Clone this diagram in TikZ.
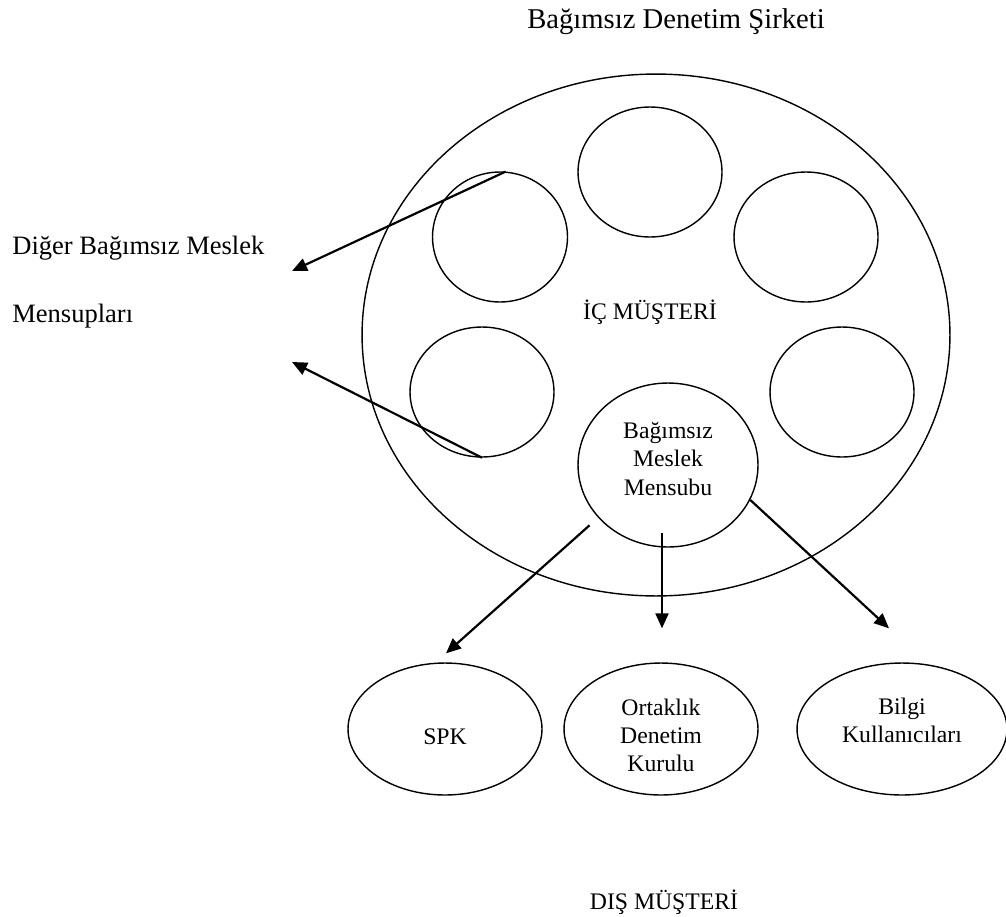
\documentclass[tikz,border=0pt]{standalone}
\usepackage{fontspec}
\setmainfont{Liberation Serif}
\usetikzlibrary{shapes.geometric,arrows.meta}

\tikzset{
  oval/.style={draw, ellipse, line width=0.8pt, inner sep=0pt},
  yazi/.style={inner sep=0pt, align=center, font=\fontsize{13.5}{16}\selectfont},
  okay/.style={-{Triangle[length=0.3cm,width=0.26cm]}, line width=1.25pt},
}

\begin{document}
\begin{tikzpicture}[x=0.02cm, y=-0.02cm]
\useasboundingbox (0,0) rectangle (1006,916);

\node[inner sep=0pt, font=\fontsize{16.3}{20}\selectfont, anchor=base] (baslik) at (676,29) {Bağımsız Denetim Şirketi};
\node[inner sep=0pt, font=\fontsize{15.1}{18}\selectfont, anchor=base west] (diger1) at (12,254) {Diğer Bağımsız Meslek};
\node[inner sep=0pt, font=\fontsize{15.1}{18}\selectfont, anchor=base west] (diger2) at (12,322) {Mensupları};

\node[oval, minimum width=11.76cm, minimum height=10.44cm] (sirket) at (656,335) {}; % buyuk daire
\node[yazi] (ic) at (650,312) {İÇ MÜŞTERİ};

\node[oval, minimum width=2.88cm, minimum height=2.6cm] (ic1) at (650,172) {};
\node[oval, minimum width=2.7cm, minimum height=2.6cm] (ic2) at (500,237) {};
\node[oval, minimum width=2.88cm, minimum height=2.6cm] (ic3) at (806,237) {};
\node[oval, minimum width=2.88cm, minimum height=2.6cm] (ic4) at (482,392) {};
\node[oval, minimum width=2.88cm, minimum height=2.6cm] (ic5) at (842,392) {};
\node[oval, minimum width=3.6cm, minimum height=3.28cm] (bmm) at (668,465) {};
\node[yazi] (bmmyazi) at (668,459) {Bağımsız\\Meslek\\Mensubu};

\node[oval, minimum width=3.88cm, minimum height=2.64cm] (spk) at (445,729) {};
\node[oval, minimum width=3.88cm, minimum height=2.64cm] (odk) at (661,729) {};
\node[oval, minimum width=4.2cm, minimum height=2.64cm] (bilgi) at (902,729) {};
\node[yazi] (spkyazi) at (445,737) {SPK};
\node[yazi] (odkyazi) at (661,735) {Ortaklık\\Denetim\\Kurulu};
\node[yazi] (bilgiyazi) at (902,720) {Bilgi\\Kullanıcıları};

\node[yazi] (dis) at (664,902) {DIŞ MÜŞTERİ};

% diger meslek mensuplarina
\coordinate (u1) at (292,271);
\coordinate (u2) at (292,362);
\draw[okay] (ic2.85) -- (u1);
\draw[okay] (ic4.south) -- (u2);

% dis musterilere
\draw[okay] ([shift={(-9.6,6.5)}]bmm.218) -- ([shift={(1,-9)}]spk.north);
\draw[okay] ([shift={(-6,-15)}]bmm.south) -- ([shift={(1,-34)}]odk.north);
\draw[okay] (bmm.337) -- ([shift={(-13,-34)}]bilgi.north);
\end{tikzpicture}
\end{document}
